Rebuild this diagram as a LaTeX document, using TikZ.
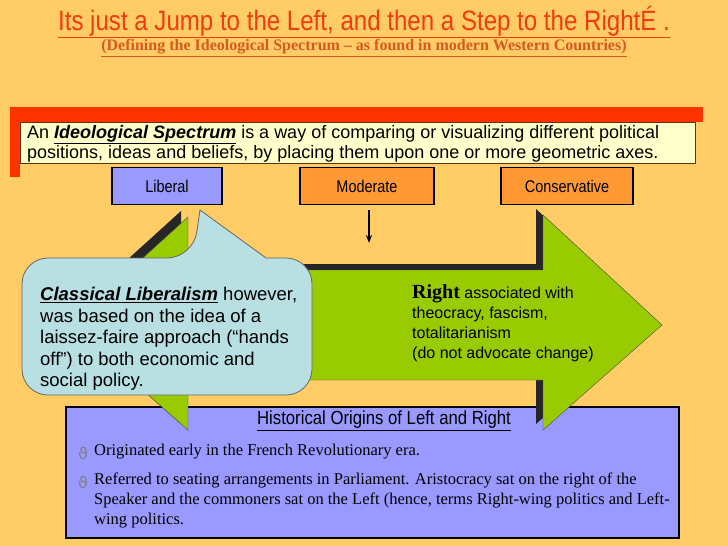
\documentclass[tikz,border=0pt]{standalone}
\usepackage{fontspec}
\usetikzlibrary{arrows.meta}
\setmainfont{Liberation Serif}
\setsansfont{Liberation Sans}
\newfontfamily\djv{DejaVu Sans}
\definecolor{bg}{HTML}{FFCC66}
\definecolor{titler}{HTML}{F03C10}
\definecolor{subr}{HTML}{D45A20}
\definecolor{barred}{HTML}{FF3300}
\definecolor{ybox}{HTML}{FFFFCC}
\definecolor{purp}{HTML}{9999FF}
\definecolor{orng}{HTML}{FF9933}
\definecolor{grn}{HTML}{99CC00}
\definecolor{bub}{HTML}{B8DFE2}
\newcommand{\fs}[2]{\fontsize{#1}{#2}\selectfont}
\tikzset{lab/.style={draw=black,line width=1.2pt,minimum width=#1,minimum height=37pt,inner sep=0pt},
 labt/.style={inner sep=0pt,font=\sffamily\fs{17}{17},xscale=0.85},
 txt/.style={inner sep=0pt,anchor=north west,align=left}}
\begin{document}
\begin{tikzpicture}[x=1pt,y=-1pt]
\fill[bg] (0,0) rectangle (728,546);
\useasboundingbox (0,0) rectangle (728,546);
\node[inner sep=0pt,text=titler,font=\sffamily\fs{28}{28},xscale=0.86] (title) at (364,22) {\underline{Its just a Jump to the Left, and then a Step to the RightÉ .}};
\node[inner sep=0pt,text=subr,font=\bfseries\fs{16}{16}] (sub) at (364,48) {\underline{(Defining the Ideological Spectrum – as found in modern Western Countries)}};
\fill[barred] (10,107) rectangle (703,122);
\fill[barred] (10,107) rectangle (20,177);
\draw[fill=ybox,draw=black!60!orange] (20,122) rectangle (695,163);
\node[txt,font=\sffamily\fs{18}{20}] (def) at (27,125) {An \textbf{\textit{\underline{Ideological Spectrum}}} is a way of comparing or visualizing different political\\positions, ideas and beliefs, by placing them upon one or more geometric axes.};
\node[lab=110pt,fill=purp] (lib) at (167,186) {};
\node[lab=134pt,fill=orng] (mod) at (367,186) {};
\node[lab=132pt,fill=orng] (con) at (567,186) {};
\node[labt] at (lib) {Liberal};
\node[labt] at (mod) {Moderate};
\node[labt] at (con) {Conservative};
\coordinate (mend) at (369,243);
\draw[-{Stealth[length=8pt,width=6pt]},line width=1.3pt] (mod.south) ++(2,5) -- (mend);
% purple box
\draw[fill=purp,line width=1.5pt] (66,407) rectangle (679,538);
\node[inner sep=0pt,font=\sffamily\fs{19}{19},xscale=0.88] (hist) at (384,421) {\underline{Historical Origins of Left and Right}};
\node[text=black!50,font=\djv\fs{16}{16},inner sep=0pt] (b1) at (83,453) {ϑ};
\node[text=black!50,font=\djv\fs{16}{16},inner sep=0pt] (b2) at (83,482) {ϑ};
\node[txt,font=\fs{16.5}{20}] (t1) at (94,444) {Originated early in the French Revolutionary era.};
\node[txt,font=\fs{16.5}{20}] (t2) at (94,473) {Referred to seating arrangements in Parliament. Aristocracy sat on the right of the\\Speaker and the commoners sat on the Left (hence, terms Right-wing politics and Left-\\wing politics.};
% arrow
\def\arr{(69,325) -- (188,217) -- (188,270) -- (543,270) -- (543,215) -- (662,325) -- (543,430) -- (543,380) -- (188,380) -- (188,430) -- cycle}
\fill[black!85,shift={(-7pt,6pt)}] \arr;
\draw[fill=grn,draw=black!70] \arr;
\node[txt,font=\sffamily\fs{16}{20}] (right) at (412,284) {{\rmfamily\bfseries\fs{20}{20}Right} associated with\\theocracy, fascism,\\totalitarianism\\(do not advocate change)};
% bubble
\draw[fill=bub,draw=black!60,line width=0.8pt,rounded corners=26pt] (22,258) -- (193,258) [sharp corners] -- (200,210) -- (266,258) [rounded corners=26pt] -- (312,258) -- (312,395) -- (22,395) -- cycle;
\node[txt,font=\sffamily\fs{18.5}{21.5}] (bubt) at (40,287) {\textbf{\textit{\underline{Classical Liberalism}}} however,\\was based on the idea of a\\laissez-faire approach (“hands\\off”) to both economic and\\social policy.};
\end{tikzpicture}
\end{document}
